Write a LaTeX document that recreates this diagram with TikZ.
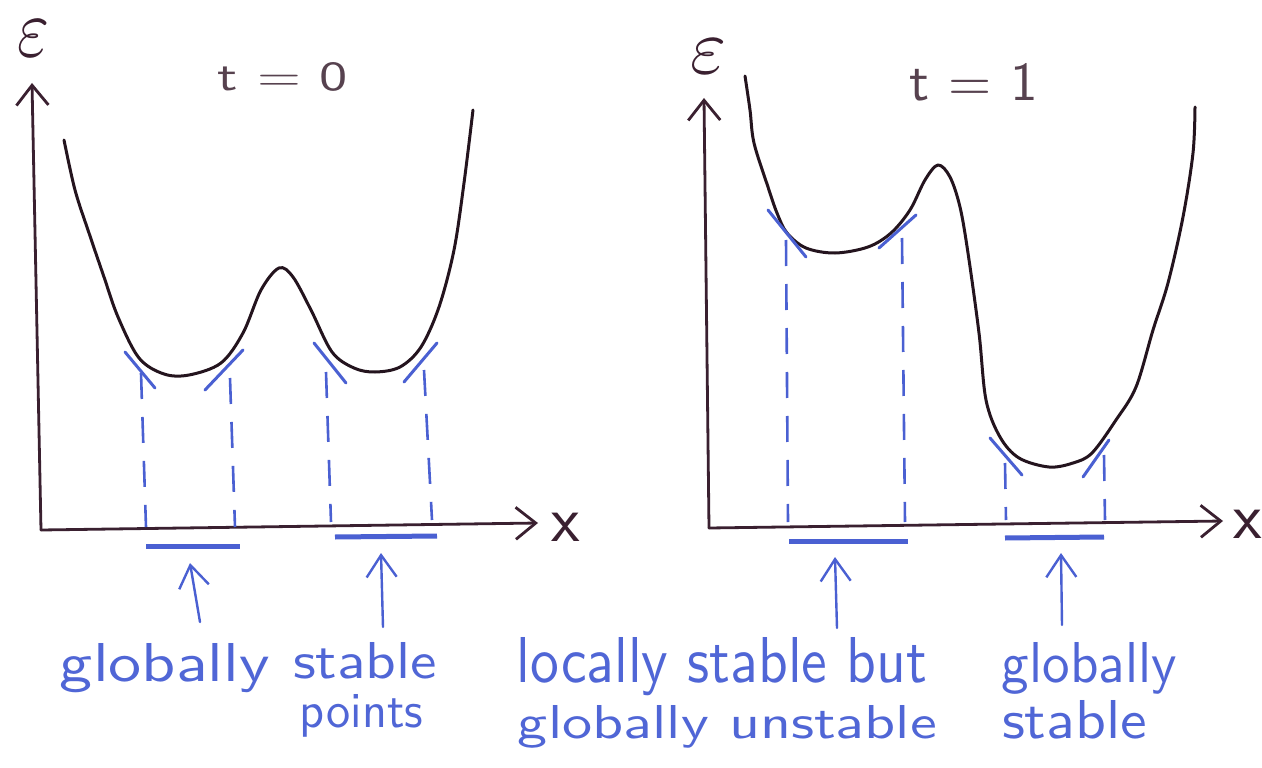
\documentclass[tikz,border=0pt]{standalone}
\usepackage{fontspec}
\usetikzlibrary{arrows.meta}
\definecolor{ink}{HTML}{24141E}
\definecolor{axisc}{HTML}{3A2030}
\definecolor{pen}{HTML}{4A60D2}
\definecolor{pentext}{HTML}{5066D6}
\newcommand{\fitto}[3]{\resizebox{#1pt}{#2pt}{#3}}
\begin{document}
\begin{tikzpicture}[x=1pt,y=-1pt,
 curve/.style={ink, line width=3pt, line cap=round, line join=round},
 axis/.style={axisc, line width=2.8pt, line cap=round, line join=round, -{Straight Barb[length=20pt,width=32pt]}},
 tangent/.style={pen, line width=3pt, line cap=round},
 guide/.style={pen, line width=2.6pt, dash pattern=on 26pt off 18pt},
 bar/.style={pen, line width=5pt},
 pointer/.style={pen, line width=2.4pt, line cap=round, -{Straight Barb[length=22pt,width=30pt]}},
 lbl/.style={pentext, font=\sffamily, anchor=base, inner sep=0pt},
 ttl/.style={axisc!85, font=\sffamily, anchor=base, inner sep=0pt},
 sym/.style={axisc, inner sep=0pt}]
\useasboundingbox[fill=white] (0,0) rectangle (1262,768);

% ---------- left plot ----------
\coordinate (O1) at (41,530);
\coordinate (Y1) at (32,83);
\coordinate (X1) at (538,523);
\draw[axis] (O1) -- (Y1);
\draw[axis] (O1) -- (X1);
\node[sym] (eps1) at (33.5,38) {\fitto{32}{36}{$\varepsilon$}};
\node[sym, font=\sffamily\fontsize{66}{66}\selectfont] (x1) at (566,527) {x};
\node[ttl] (t0) at (283,90) {\fitto{130}{28}{t = 0}};

\draw[curve] plot[smooth, tension=0.55] coordinates {
 (64,140) (75,190) (89,233) (104,277) (118,317) (139,358) (164,374) (189,375)
 (221,363) (243,333) (261,290) (279,268) (293,277) (311,310) (332,352) (354,368)
 (375,372) (400,367) (421,347) (439,307) (454,250) (464,183) (473,110)};

\draw[tangent] (125,352) -- (155,388);
\draw[tangent] (205,390) -- (243,350);
\draw[tangent] (314,343) -- (346,383);
\draw[tangent] (404,382) -- (437,343);

\draw[guide] (141,373) -- (146,527);
\draw[guide] (230,378) -- (235,527);
\draw[guide] (326,372) -- (331,522);
\draw[guide] (424,370) -- (432,520);

\coordinate (b1a) at (146,546); \coordinate (b1b) at (240,546);
\coordinate (b2a) at (335,537); \coordinate (b2b) at (437,536);
\draw[bar] (b1a) -- (b1b);
\draw[bar] (b2a) -- (b2b);

\node[lbl] (L1) at (165,681) {\fitto{210}{38}{globally}};
\node[lbl] (L1b) at (365,678) {\fitto{144}{36}{stable}};
\node[lbl] (L2) at (361.5,727) {\fitto{123}{33}{points}};
\coordinate (p1t) at (200,622); \coordinate (p1h) at (190,563);
\coordinate (p2t) at (383,627); \coordinate (p2h) at (381,553);
\draw[pointer] (p1t) -- (p1h);
\draw[pointer] (p2t) -- (p2h);

% ---------- right plot ----------
\coordinate (O2) at (709,528);
\coordinate (Y2) at (704,98);
\coordinate (X2) at (1223,521);
\draw[axis] (O2) -- (Y2);
\draw[axis] (O2) -- (X2);
\node[sym] (eps2) at (708.5,56) {\fitto{36}{34}{$\varepsilon$}};
\node[sym, font=\sffamily\fontsize{66}{66}\selectfont] (x2) at (1248,524) {x};
\node[ttl] (t1) at (974,100) {\fitto{128}{37}{t = 1}};

\draw[curve] plot[smooth, tension=0.55] coordinates {
 (745,76) (750,110) (754,143) (768,187) (777,213) (787,233) (806,248) (835,253)
 (868,247) (891,233) (910,210) (925,180) (938,165) (950,177) (960,207) (968,253)
 (979,333) (986,400) (1000,437) (1019,458) (1049,467) (1073,463) (1092,453)
 (1116,420) (1136,387) (1153,330) (1168,283) (1183,217) (1193,153) (1195,107)};

\draw[tangent] (768,210) -- (806,257);
\draw[tangent] (879,248) -- (916,215);
\draw[tangent] (990,438) -- (1022,475);
\draw[tangent] (1083,477) -- (1109,440);

\draw[guide] (786,240) -- (788,522);
\draw[guide] (902,238) -- (905,522);
\draw[guide] (1005,463) -- (1006,520);
\draw[guide] (1104,455) -- (1105,520);

\coordinate (b3a) at (789,541); \coordinate (b3b) at (908,541);
\coordinate (b4a) at (1005,538); \coordinate (b4b) at (1104,537);
\draw[bar] (b3a) -- (b3b);
\draw[bar] (b4a) -- (b4b);

\node[lbl] (R1) at (722,682) {\fitto{410}{45}{locally stable but}};
\node[lbl] (R2) at (727.5,738) {\fitto{419}{33}{globally unstable}};
\node[lbl] (R3) at (1089.5,682) {\fitto{175}{40}{globally}};
\node[lbl] (R4) at (1074.5,738) {\fitto{145}{38}{stable}};
\coordinate (p3t) at (837,628); \coordinate (p3h) at (835,557);
\coordinate (p4t) at (1062,625); \coordinate (p4h) at (1061,553);
\draw[pointer] (p3t) -- (p3h);
\draw[pointer] (p4t) -- (p4h);
\end{tikzpicture}
\end{document}
